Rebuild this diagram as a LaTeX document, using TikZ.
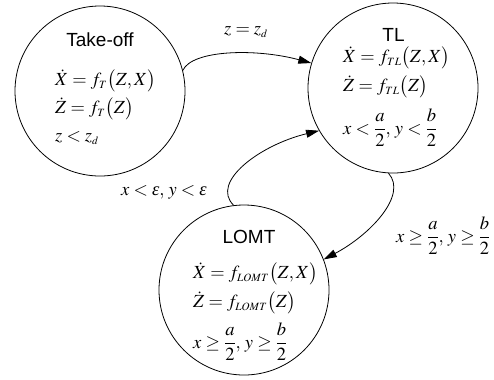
\documentclass[tikz,border=0pt]{standalone}
\usepackage{amsmath}
\usepackage{mathptmx}
\usepackage[no-math]{fontspec}
\newfontfamily\arialfont{Liberation Sans}
\newfontfamily\timesfont{Liberation Serif}
\newcommand{\myeps}{\text{\timesfont\itshape ε}}
\usetikzlibrary{arrows.meta}
\begin{document}
\begin{tikzpicture}[x=1bp,y=-1bp,
  state/.style={circle,draw,line width=0.8bp,minimum size=170bp,inner sep=0pt},
  title/.style={font=\arialfont\fontsize{19bp}{22bp}\selectfont,inner sep=0pt},
  eq/.style={anchor=west,inner sep=0pt,font=\fontsize{18.5bp}{22bp}\selectfont},
  lab/.style={anchor=west,inner sep=0pt,font=\fontsize{18.5bp}{22bp}\selectfont},
  edge/.style={line width=0.8bp,-{Triangle[length=13bp,width=8bp]}}]
\useasboundingbox (0,0) rectangle (494,379);
\fill[white] (0,0) rectangle (494,379);
% states
\node[state] (to) at (100,91) {};
\node[state] (tl) at (393,88) {};
\node[state] (lo) at (244,290) {};
% Take-off texts
\node[title] (tot) at (100,40) {Take-off};
\node[eq] (toa) at (55,81) {$\dot X = f_{\scriptscriptstyle T}\bigl(Z,X\bigr)$};
\node[eq] (tob) at (55,109) {$\dot Z = f_{\scriptscriptstyle T}\bigl(Z\bigr)$};
\node[eq] (toc) at (55,138) {$z < z_{\scriptscriptstyle d}$};
% TL texts
\node[title] (tlt) at (393.5,35) {TL};
\node[eq] (tla) at (343,58) {$\dot X = f_{\scriptscriptstyle TL}\bigl(Z,X\bigr)$};
\node[eq] (tlb) at (343,87) {$\dot Z = f_{\scriptscriptstyle TL}\bigl(Z\bigr)$};
\node[eq] (tlc) at (343,128) {$x < \dfrac{a}{2},\, y < \dfrac{b}{2}$};
% LOMT texts
\node[title] (lot) at (249,237) {LOMT};
\node[eq] (loa) at (193,274) {$\dot X = f_{\scriptscriptstyle LOMT}\bigl(Z,X\bigr)$};
\node[eq] (lob) at (193,303) {$\dot Z = f_{\scriptscriptstyle LOMT}\bigl(Z\bigr)$};
\node[eq] (loc) at (193,342) {$x \geq \dfrac{a}{2},\, y \geq \dfrac{b}{2}$};
% edge labels
\node[lab] (l1) at (224,32) {$z = z_{\scriptscriptstyle d}$};
\node[lab] (l2) at (121,192) {$x < \myeps,\, y < \myeps$};
\node[lab] (l3) at (396,236) {$x \geq \dfrac{a}{2},\, y \geq \dfrac{b}{2}$};
% edges
\draw[edge] (to.14) .. controls (192,50) and (255,48) .. (tl.163);
\draw[edge] (lo.97) .. controls (210,182) and (260,145) .. (tl.210);
\draw[edge] (tl.267) .. controls (408,195) and (370,235) .. (lo.21);
\end{tikzpicture}
\end{document}
